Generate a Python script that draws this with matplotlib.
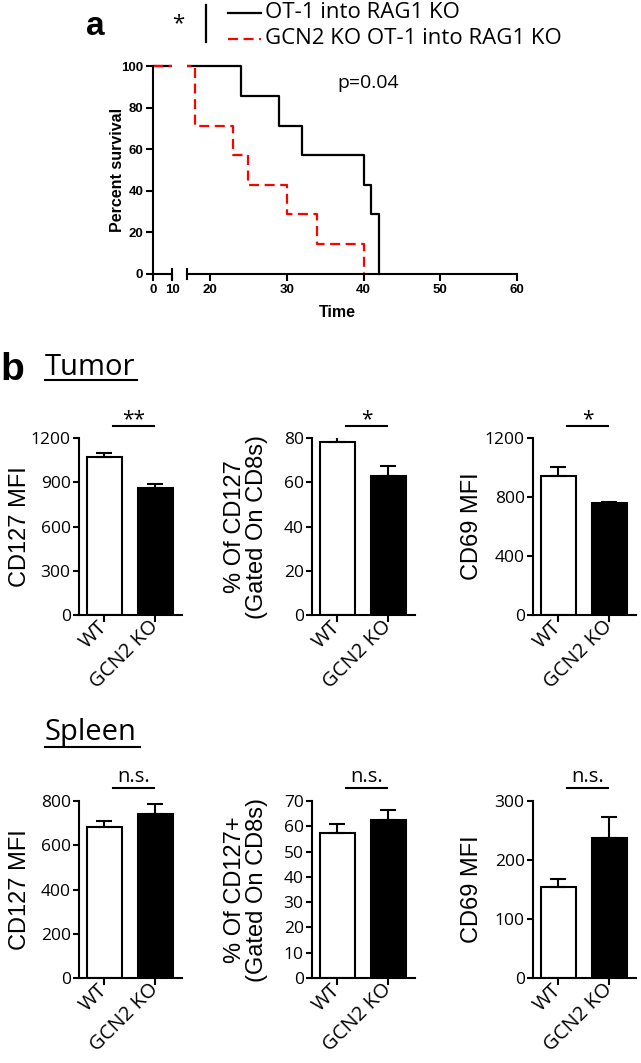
import numpy as np
import matplotlib
matplotlib.use('Agg')
import matplotlib.pyplot as plt
import matplotlib.transforms as mtransforms
from matplotlib.lines import Line2D

W, H = 641, 1063

# survival curves (day, percent surviving)
ot1_days = [0, 24, 29, 32, 40, 41, 42]
ot1_surv = [100, 85.7, 71.4, 57.1, 42.9, 28.6, 0]
gcn2_days = [0, 18, 23, 25, 30, 34, 40]
gcn2_surv = [100, 71.4, 57.1, 42.9, 28.6, 14.3, 0]

groups = ['WT', 'GCN2 KO']
tumor_cd127 = [1072, 862]
tumor_cd127_err = [27, 27]
tumor_pct = [78, 62.8]
tumor_pct_err = [2.4, 4.5]
tumor_cd69 = [945, 758]
tumor_cd69_err = [58, 7]
spleen_cd127 = [683, 741]
spleen_cd127_err = [27, 46]
spleen_pct = [57.3, 62.4]
spleen_pct_err = [3.6, 4.0]
spleen_cd69 = [155, 237]
spleen_cd69_err = [12, 36]

SANS = 'Open Sans'
ARIAL = 'Liberation Sans'
RED = '#ff0000'


def fx(x):
    return x / W


def fy(y):
    return 1 - y / H


def rect(x0, y0, x1, y1):
    # pixel box (top-left origin) -> figure fraction rect
    return [fx(x0), fy(y1), (x1 - x0) / W, (y1 - y0) / H]


fig = plt.figure(figsize=(W / 100, H / 100), dpi=100)

# ---------------- a: survival ----------------
axL = fig.add_axes(rect(153, 64, 172, 276))
axR = fig.add_axes(rect(187, 64, 517, 276))
for ax in (axL, axR):
    ax.step(ot1_days, ot1_surv, where='post', color='black', lw=1.6)
    ax.step(gcn2_days, gcn2_surv, where='post', color=RED, lw=1.6,
            dashes=(4.5, 2.5))
    ax.set_ylim(-1, 101)
    ax.spines['top'].set_visible(False)
    ax.spines['right'].set_visible(False)
    ax.spines['bottom'].set_position(('data', 0))
    ax.spines['bottom'].set_linewidth(1.5)
    ax.spines['left'].set_linewidth(1.5)
    ax.patch.set_alpha(0)
    ax.tick_params(length=5, width=1.5, pad=2, labelsize=9.5)

axL.set_xlim(0, 10)
axR.set_xlim(17, 60)
axL.set_xticks([0, 10])
axR.set_xticks([20, 30, 40, 50, 60])
axL.set_yticks(range(0, 101, 20))
axL.spines['left'].set_bounds(0, 100)
axR.spines['left'].set_visible(False)
axR.tick_params(axis='y', left=False, labelleft=False)
for ax in (axL, axR):
    for lab in ax.get_xticklabels() + ax.get_yticklabels():
        lab.set_fontweight('bold')
        lab.set_family(ARIAL)

# axis break marks
for ax, xa in ((axL, 1), (axR, 0)):
    tr = mtransforms.blended_transform_factory(ax.transAxes, ax.transData)
    ax.plot([xa, xa], [-2.6, 2.6], transform=tr, color='black', lw=1.5,
            clip_on=False)

axL.set_ylabel('Percent survival', family=ARIAL, fontweight='bold', fontsize=11.5)
axL.yaxis.set_label_coords(-1.45, 0.5)
fig.text(fx(337), fy(313), 'Time', family=ARIAL, fontweight='bold',
         fontsize=11.5, ha='center', va='center')
fig.text(fx(337), fy(83), 'p=0.04', family=SANS, fontsize=14, va='center')

# legend
fig.text(fx(86), fy(35), 'a', family=ARIAL, fontweight='bold', fontsize=24,
         va='baseline')
fig.text(fx(178), fy(29), '*', family=SANS, fontsize=16, ha='center',
         va='baseline')
fig.add_artist(Line2D([fx(206), fx(206)], [fy(5), fy(42)], color='black', lw=1.6))
fig.add_artist(Line2D([fx(228), fx(261)], [fy(12.5), fy(12.5)], color='black',
                      lw=1.6))
fig.add_artist(Line2D([fx(228), fx(261)], [fy(39), fy(39)], color=RED, lw=1.6,
                      dashes=(4.5, 2.5)))
fig.text(fx(265), fy(12.5), 'OT-1 into RAG1 KO', family=SANS, fontsize=16,
         va='center')
fig.text(fx(265), fy(39), 'GCN2 KO OT-1 into RAG1 KO', family=SANS,
         fontsize=16, va='center')

# ---------------- b: bar panels ----------------
fig.text(fx(0), fy(380), 'b', family=ARIAL, fontweight='bold', fontsize=28,
         va='baseline')
fig.text(fx(45), fy(375), 'Tumor', family=SANS, fontsize=21, va='baseline')
fig.add_artist(Line2D([fx(45), fx(137)], [fy(380), fy(380)], color='black', lw=1.5))
fig.text(fx(45), fy(740), 'Spleen', family=SANS, fontsize=21, va='baseline')
fig.add_artist(Line2D([fx(45), fx(140)], [fy(747), fy(747)], color='black', lw=1.5))


def bar_panel(x0, ytop, ybot, vals, errs, ymax, ticks, ylabel, labx, sig,
              gap_px):
    ax = fig.add_axes(rect(x0, ytop, x0 + 103, ybot))
    x = np.arange(len(groups))
    ax.bar(x, vals, width=0.69, color=['white', 'black'], edgecolor='black',
           linewidth=1.5, zorder=2)
    ax.errorbar(x, vals, yerr=[[0, 0], errs], fmt='none', ecolor='black',
                elinewidth=1.5, capsize=6, capthick=1.5, zorder=3)
    ax.set_xlim(-0.5, 1.52)
    ax.set_ylim(0, ymax)
    ax.set_yticks(ticks)
    ax.set_xticks(x)
    ax.set_xticklabels(groups, rotation=45, ha='right', va='center',
                       rotation_mode='anchor', fontsize=14.5, family=SANS)
    for lab in ax.get_xticklabels():
        lab.set_transform(lab.get_transform() +
                          mtransforms.ScaledTranslation(3 / 100, 0,
                                                        fig.dpi_scale_trans))
    for lab in ax.get_yticklabels():
        lab.set_family(SANS)
        lab.set_fontsize(12.5)
    ax.tick_params(axis='y', length=4, width=1.5, pad=2)
    ax.tick_params(axis='x', length=5, width=1.5, pad=1.5)
    for s in ('top', 'right'):
        ax.spines[s].set_visible(False)
    for s in ('left', 'bottom'):
        ax.spines[s].set_linewidth(1.5)
    ax.set_ylabel(ylabel, family=ARIAL, fontsize=17, linespacing=1.0)
    ax.yaxis.set_label_coords(labx, 0.5)

    hpx = ybot - ytop
    ysig = 1 + gap_px / hpx
    tr = mtransforms.blended_transform_factory(ax.transData, ax.transAxes)
    ax.plot([0.17, 0.97], [ysig, ysig], transform=tr, color='black', lw=1.5,
            clip_on=False)
    if sig == 'n.s.':
        ax.text(0.57, ysig + 6 / hpx, sig, transform=tr, family=SANS,
                fontsize=14.5, ha='center', va='baseline')
    else:
        ax.text(0.57, ysig + 1 / hpx, sig, transform=tr, family=SANS,
                fontsize=15, ha='center', va='baseline')
    return ax


bar_panel(79, 438, 615, tumor_cd127, tumor_cd127_err, 1200,
          [0, 300, 600, 900, 1200], 'CD127 MFI', -0.47, '**', 12)
bar_panel(312, 438, 615, tumor_pct, tumor_pct_err, 80, [0, 20, 40, 60, 80],
          '% Of CD127\n(Gated On CD8s)', -0.43, '*', 12)
bar_panel(533, 438, 615, tumor_cd69, tumor_cd69_err, 1200,
          [0, 400, 800, 1200], 'CD69 MFI', -0.49, '*', 12)

bar_panel(79, 801, 978, spleen_cd127, spleen_cd127_err, 800,
          [0, 200, 400, 600, 800], 'CD127 MFI', -0.47, 'n.s.', 13)
bar_panel(312, 801, 978, spleen_pct, spleen_pct_err, 70, list(range(0, 71, 10)),
          '% Of CD127+\n(Gated On CD8s)', -0.43, 'n.s.', 13)
bar_panel(533, 801, 978, spleen_cd69, spleen_cd69_err, 300, [0, 100, 200, 300],
          'CD69 MFI', -0.49, 'n.s.', 13)

fig.savefig('out.png', dpi=100)
